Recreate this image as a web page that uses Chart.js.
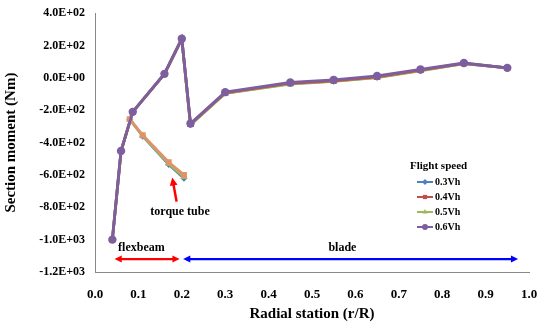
<!DOCTYPE html>
<html>
<head>
<meta charset="utf-8">
<script src="https://cdn.jsdelivr.net/npm/chart.js@4"></script>
<style>
  html, body { margin: 0; padding: 0; background: #fff; }
  #wrap { width: 539px; height: 326px; }
</style>
</head>
<body>
<div id="wrap"><canvas id="momentChart"></canvas></div>
<script>
// radial stations
const flexX = [0.04, 0.06, 0.087, 0.16, 0.2];
const tubeX = [0.08, 0.11, 0.17, 0.205];
const bladeX = [0.22, 0.3, 0.45, 0.55, 0.65, 0.75, 0.85, 0.95];

// flexbeam section moment is the same for every speed
const flexY = [-1000, -452, -210, 25, 242];

const seriesNames = ['0.3Vh', '0.4Vh', '0.5Vh', '0.6Vh'];
const tubeY = {
  '0.3Vh': [-255, -360, -535, -620],
  '0.4Vh': [-255, -355, -522, -600],
  '0.5Vh': [-255, -358, -530, -612],
  '0.6Vh': []
};
const bladeY = {
  '0.3Vh': [-288, -94, -35, -20, 4, 46, 89, 62],
  '0.4Vh': [-285, -92, -33, -18, 6, 48, 90, 62],
  '0.5Vh': [-290, -96, -38, -22, 2, 44, 88, 62],
  '0.6Vh': [-282, -88, -28, -12, 12, 52, 92, 62]
};

const colors = ['#4F81BD', '#C0504D', '#9BBB59', '#7D5FA0'];
const markers = ['rectRot', 'rect', 'triangle', 'circle'];
const drawOrder = [3, 1, 2, 0];
const tubeTint = '#E0936B';

function buildData(name) {
  const pts = [];
  const t = tubeY[name];
  tubeX.forEach((x, i) => { if (t[i] !== undefined) pts.push({ x: x, y: t[i] }); });
  if (pts.length) pts.push({ x: 0.205, y: null });
  flexX.forEach((x, i) => pts.push({ x: x, y: flexY[i] }));
  bladeX.forEach((x, i) => pts.push({ x: x, y: bladeY[name][i] }));
  return pts;
}

const datasets = seriesNames.map((name, i) => {
  const data = buildData(name);
  const nTube = tubeY[name].length;
  const ds = {
    label: name,
    data: data,
    showLine: true,
    spanGaps: false,
    borderColor: colors[i],
    backgroundColor: colors[i],
    borderWidth: 2.8,
    pointStyle: markers[i],
    pointRadius: markers[i] === 'rectRot' ? 3.5 : 4.2,
    pointBorderWidth: 0,
    order: drawOrder[i]
  };
  if (name === '0.4Vh') {
    ds.segment = { borderColor: c => c.p0DataIndex < nTube ? tubeTint : undefined };
    ds.pointBackgroundColor = data.map((p, j) => j < nTube ? tubeTint : colors[i]);
  }
  return ds;
});

function sci(v) {
  if (v === 0) return '0.0E+00';
  const e = Math.floor(Math.log10(Math.abs(v)));
  const m = v / Math.pow(10, e);
  return m.toFixed(1) + 'E' + (e < 0 ? '-' : '+') + String(Math.abs(e)).padStart(2, '0');
}

const serif = '"Liberation Serif", "Times New Roman", serif';

function arrowHead(ctx, x0, y0, x1, y1, size) {
  const a = Math.atan2(y1 - y0, x1 - x0);
  ctx.beginPath();
  ctx.moveTo(x1, y1);
  ctx.lineTo(x1 - size * Math.cos(a - 0.45), y1 - size * Math.sin(a - 0.45));
  ctx.lineTo(x1 - size * Math.cos(a + 0.45), y1 - size * Math.sin(a + 0.45));
  ctx.closePath();
  ctx.fill();
}

function doubleArrow(ctx, x0, x1, y, color) {
  ctx.strokeStyle = color;
  ctx.fillStyle = color;
  ctx.lineWidth = 2.2;
  ctx.beginPath();
  ctx.moveTo(x0 + 4, y);
  ctx.lineTo(x1 - 4, y);
  ctx.stroke();
  arrowHead(ctx, x1, y, x0, y, 8);
  arrowHead(ctx, x0, y, x1, y, 8);
}

const notes = {
  id: 'notes',
  afterDraw(chart) {
    const ctx = chart.ctx;
    const xs = chart.scales.x, ys = chart.scales.y;
    ctx.save();
    const yArrow = ys.getPixelForValue(-1120);
    doubleArrow(ctx, xs.getPixelForValue(0.045), xs.getPixelForValue(0.195), yArrow, '#FF0000');
    doubleArrow(ctx, xs.getPixelForValue(0.203), xs.getPixelForValue(0.975), yArrow, '#0000FF');

    ctx.fillStyle = '#000';
    ctx.font = 'bold 12px ' + serif;
    ctx.textAlign = 'center';
    ctx.textBaseline = 'middle';
    ctx.fillText('flexbeam', xs.getPixelForValue(0.107), ys.getPixelForValue(-1050));
    ctx.fillText('blade', xs.getPixelForValue(0.57), ys.getPixelForValue(-1050));
    ctx.fillText('torque tube', xs.getPixelForValue(0.196), ys.getPixelForValue(-827));

    // red arrow pointing at torque tube branch
    const ax0 = xs.getPixelForValue(0.188), ay0 = ys.getPixelForValue(-765);
    const ax1 = xs.getPixelForValue(0.178), ay1 = ys.getPixelForValue(-615);
    ctx.strokeStyle = '#FF0000';
    ctx.fillStyle = '#FF0000';
    ctx.lineWidth = 2.5;
    ctx.beginPath();
    ctx.moveTo(ax0, ay0);
    ctx.lineTo(ax0 + (ax1 - ax0) * 0.7, ay0 + (ay1 - ay0) * 0.7);
    ctx.stroke();
    arrowHead(ctx, ax0, ay0, ax1, ay1, 9);

    // legend
    ctx.fillStyle = '#000';
    ctx.font = 'bold 11px ' + serif;
    ctx.textAlign = 'left';
    ctx.fillText('Flight speed', 410, 166);
    ctx.font = 'bold 10px ' + serif;
    chart.data.datasets.forEach((ds, i) => {
      const y = 182 + i * 15;
      ctx.strokeStyle = ds.borderColor;
      ctx.lineWidth = 2;
      ctx.beginPath();
      ctx.moveTo(417, y);
      ctx.lineTo(433, y);
      ctx.stroke();
      ctx.fillStyle = ds.borderColor;
      Chart.helpers.drawPoint(ctx, { pointStyle: ds.pointStyle, radius: 3, rotation: 0, borderWidth: 0 }, 425, y);
      ctx.fillStyle = '#000';
      ctx.fillText(ds.label, 435, y);
    });
    ctx.restore();
  }
};

new Chart(document.getElementById('momentChart'), {
  type: 'scatter',
  data: { datasets: datasets },
  options: {
    responsive: true,
    maintainAspectRatio: false,
    animation: false,
    layout: { padding: { top: 7, right: 0, left: 2, bottom: 0 } },
    plugins: {
      legend: { display: false },
      tooltip: { enabled: false }
    },
    scales: {
      x: {
        type: 'linear',
        min: 0, max: 1,
        grid: { display: false, drawTicks: true, tickLength: 4, color: '#888' },
        border: { color: '#888' },
        ticks: {
          stepSize: 0.1,
          color: '#000',
          padding: 11,
          font: { family: serif, weight: 'bold', size: 13 },
          callback: v => v.toFixed(1)
        },
        title: {
          display: true,
          text: 'Radial station (r/R)',
          color: '#000',
          padding: { top: 0, bottom: 3 },
          font: { family: serif, weight: 'bold', size: 15 }
        },
        afterFit: s => { s.height = 54; s.paddingRight = 10; }
      },
      y: {
        min: -1200, max: 400,
        grid: { display: false, drawTicks: true, tickLength: 4, color: '#888' },
        border: { color: '#888' },
        ticks: {
          stepSize: 200,
          color: '#000',
          padding: 6,
          font: { family: serif, weight: 'bold', size: 12 },
          callback: v => sci(v)
        },
        title: {
          display: true,
          text: 'Section moment (Nm)',
          color: '#000',
          padding: { top: 0, bottom: 4 },
          font: { family: serif, weight: 'bold', size: 15 }
        },
        afterFit: s => { s.width = 93; }
      }
    }
  },
  plugins: [notes]
});
</script>
</body>
</html>
